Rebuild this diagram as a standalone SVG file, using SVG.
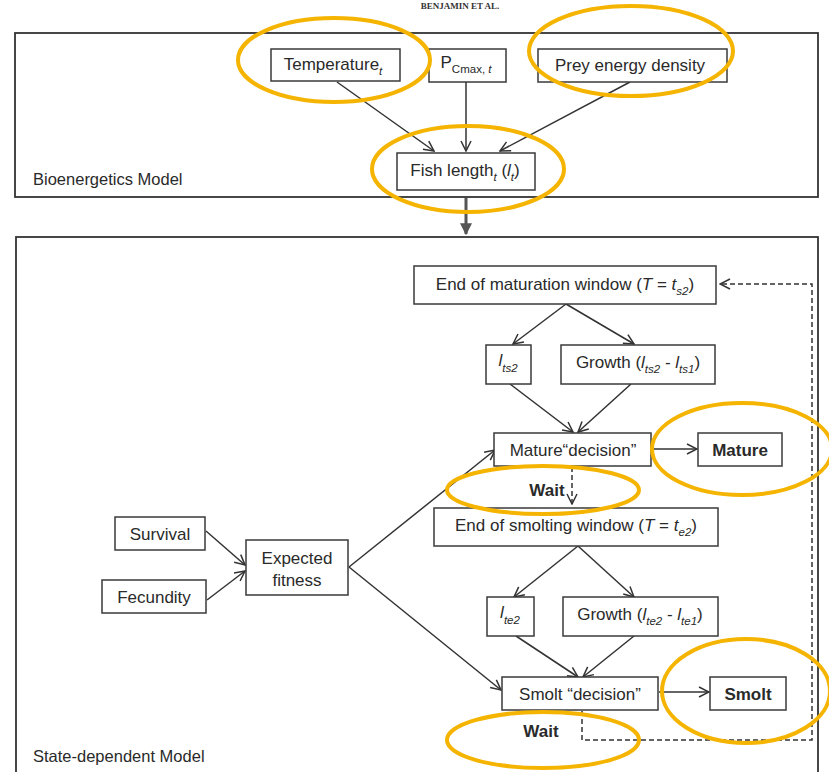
<svg xmlns="http://www.w3.org/2000/svg" width="829" height="772" viewBox="0 0 829 772">
<style>
.box{fill:#fff;stroke:#3a3a3a;stroke-width:1.5}
.frame{fill:none;stroke:#333;stroke-width:1.8}
.t{font-family:"Liberation Sans",Arial,sans-serif;font-size:17px;fill:#2a2a2a;text-anchor:middle}
.lab{font-family:"Liberation Sans",Arial,sans-serif;font-size:16.5px;fill:#2a2a2a}
.b{font-weight:bold}
.sub{font-size:11.5px;font-style:italic}
.up{font-size:11.5px;font-style:normal}
.it{font-style:italic}
.c{fill:none;stroke:#333;stroke-width:1.5;marker-end:url(#ah)}
.d{fill:none;stroke:#333;stroke-width:1.5;stroke-dasharray:5,3}
.ring{fill:none;stroke:#F5B400;stroke-width:4}
</style>
<defs>
<marker id="ah" viewBox="0 0 12 12" refX="11" refY="6" markerWidth="12" markerHeight="12" markerUnits="userSpaceOnUse" orient="auto">
<path d="M1,1 L11,6 L1,11" fill="none" stroke="#333" stroke-width="1.5"/>
</marker>
<marker id="fh" viewBox="0 0 10 10" refX="9" refY="5" markerWidth="12" markerHeight="12" markerUnits="userSpaceOnUse" orient="auto">
<path d="M0,0 L10,5 L0,10 z" fill="#555"/>
</marker>
</defs>
<rect width="829" height="772" fill="#fff"/>
<text x="460" y="9" style="font-family:'Liberation Serif',serif;font-size:9px;font-weight:bold;fill:#333" text-anchor="middle">BENJAMIN ET AL.</text>

<g id="frames">
<rect class="frame" x="15" y="33" width="803" height="164"/>
<rect class="frame" x="16" y="237" width="802" height="545"/>
<text class="lab" x="33" y="185">Bioenergetics Model</text>
<text class="lab" x="33" y="762">State-dependent Model</text>
</g>

<g id="connectors">
<line class="c" x1="337" y1="82" x2="434" y2="151"/>
<line class="c" x1="466" y1="82" x2="466" y2="151"/>
<line class="c" x1="630" y1="82" x2="500" y2="151"/>
<line x1="466" y1="198" x2="466" y2="234" stroke="#555" stroke-width="3" marker-end="url(#fh)"/>
<line class="c" x1="566" y1="304" x2="513" y2="344"/>
<line class="c" x1="566" y1="304" x2="634" y2="344"/>
<line class="c" x1="510" y1="384" x2="573" y2="432"/>
<line class="c" x1="631" y1="384" x2="578" y2="432"/>
<line class="c" x1="652" y1="449" x2="697" y2="449"/>
<line class="c" x1="349" y1="567" x2="495" y2="450"/>
<line class="c" x1="349" y1="567" x2="501" y2="690"/>
<line class="c" x1="206" y1="531" x2="245" y2="565"/>
<line class="c" x1="207" y1="600" x2="245" y2="571"/>
<path class="d" d="M572,467 L572,504" marker-end="url(#ah)"/>
<line class="c" x1="578" y1="546" x2="514" y2="597"/>
<line class="c" x1="578" y1="546" x2="634" y2="597"/>
<line class="c" x1="516" y1="636" x2="578" y2="677"/>
<line class="c" x1="634" y1="636" x2="583" y2="677"/>
<line class="c" x1="659" y1="692" x2="709" y2="692"/>
<path class="d" d="M582,711 L582,740 L812,740 L812,284 L720,284" marker-end="url(#ah)"/>
</g>

<g id="n-temperature">
<rect class="box" x="271" y="49" width="129" height="32"/>
<text class="t" x="333" y="70">Temperature<tspan class="sub" dy="5">t</tspan></text>
</g>
<g id="n-pcmax">
<rect class="box" x="429" y="49" width="77" height="33"/>
<text class="t" x="466" y="68">P<tspan class="up" dy="5">Cmax, </tspan><tspan class="sub">t</tspan></text>
</g>
<g id="n-prey">
<rect class="box" x="538" y="49" width="189" height="33"/>
<text class="t" x="630" y="71">Prey energy density</text>
</g>
<g id="n-fishlength">
<rect class="box" x="397" y="153" width="138" height="37"/>
<text class="t" x="465" y="176">Fish length<tspan class="sub" dy="5">t</tspan><tspan dy="-5"> (</tspan><tspan class="it">l</tspan><tspan class="sub" dy="5">t</tspan><tspan dy="-5">)</tspan></text>
</g>

<g id="n-endmat">
<rect class="box" x="414" y="266" width="302" height="38"/>
<text class="t" x="565" y="290">End of maturation window (<tspan class="it">T</tspan> = <tspan class="it">t</tspan><tspan class="sub" dy="5">s2</tspan><tspan dy="-5">)</tspan></text>
</g>
<g id="n-lts2">
<rect class="box" x="486" y="345" width="45" height="39"/>
<text class="t" x="508" y="366"><tspan class="it">l</tspan><tspan class="sub" dy="6">ts2</tspan></text>
</g>
<g id="n-growth1">
<rect class="box" x="561" y="345" width="154" height="39"/>
<text class="t" x="638" y="368">Growth (<tspan class="it">l</tspan><tspan class="sub" dy="5">ts2</tspan><tspan dy="-5"> - </tspan><tspan class="it">l</tspan><tspan class="sub" dy="5">ts1</tspan><tspan dy="-5">)</tspan></text>
</g>
<g id="n-maturedec">
<rect class="box" x="494" y="433" width="157" height="33"/>
<text class="t" x="573" y="456">Mature“decision”</text>
</g>
<g id="n-mature">
<rect class="box" x="698" y="433" width="84" height="33"/>
<text class="t b" x="740" y="456">Mature</text>
</g>
<text class="t b" x="547" y="496">Wait</text>

<g id="n-endsmolt">
<rect class="box" x="434" y="508" width="284" height="38"/>
<text class="t" x="576" y="531">End of smolting window (<tspan class="it">T</tspan> = <tspan class="it">t</tspan><tspan class="sub" dy="5">e2</tspan><tspan dy="-5">)</tspan></text>
</g>
<g id="n-lte2">
<rect class="box" x="487" y="597" width="47" height="39"/>
<text class="t" x="510" y="618"><tspan class="it">l</tspan><tspan class="sub" dy="6">te2</tspan></text>
</g>
<g id="n-growth2">
<rect class="box" x="563" y="597" width="155" height="39"/>
<text class="t" x="640" y="620">Growth (<tspan class="it">l</tspan><tspan class="sub" dy="5">te2</tspan><tspan dy="-5"> - </tspan><tspan class="it">l</tspan><tspan class="sub" dy="5">te1</tspan><tspan dy="-5">)</tspan></text>
</g>
<g id="n-smoltdec">
<rect class="box" x="502" y="677" width="156" height="33"/>
<text class="t" x="580" y="700">Smolt “decision”</text>
</g>
<g id="n-smolt">
<rect class="box" x="710" y="677" width="76" height="33"/>
<text class="t b" x="748" y="700">Smolt</text>
</g>
<text class="t b" x="541" y="737">Wait</text>

<g id="n-survival">
<rect class="box" x="115" y="517" width="90" height="33"/>
<text class="t" x="160" y="540">Survival</text>
</g>
<g id="n-fecundity">
<rect class="box" x="102" y="580" width="104" height="33"/>
<text class="t" x="154" y="603">Fecundity</text>
</g>
<g id="n-fitness">
<rect class="box" x="246" y="540" width="102" height="55"/>
<text class="t" x="297" y="564">Expected</text>
<text class="t" x="297" y="586">fitness</text>
</g>

<g id="annotations">
<ellipse class="ring" cx="334" cy="60" rx="96" ry="42"/>
<ellipse class="ring" cx="631" cy="51" rx="102" ry="45"/>
<ellipse class="ring" cx="468" cy="169" rx="96" ry="43"/>
<ellipse class="ring" cx="742" cy="449" rx="90" ry="46"/>
<ellipse class="ring" cx="543" cy="490" rx="96" ry="24"/>
<ellipse class="ring" cx="746" cy="691" rx="84" ry="52"/>
<ellipse class="ring" cx="543" cy="740" rx="96" ry="28"/>
</g>
</svg>
